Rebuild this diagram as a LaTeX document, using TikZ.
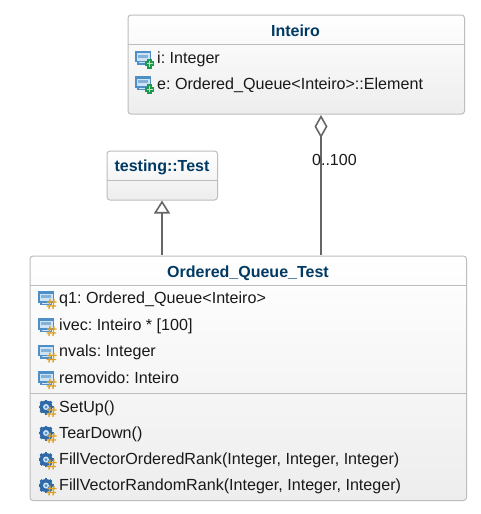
\documentclass[tikz,border=0pt]{standalone}
\usepackage{fontspec}
\setmainfont{Liberation Sans}
\usetikzlibrary{arrows.meta}
\definecolor{boxline}{HTML}{BDBDBD}
\definecolor{titleblue}{HTML}{003A63}
\definecolor{linkgrey}{HTML}{666666}
\definecolor{iconblue}{HTML}{4F8FC8}
\definecolor{iconpale}{HTML}{CFE3F5}
\definecolor{icongreen}{HTML}{1E9A4C}
\definecolor{iconorange}{HTML}{E0A020}
\definecolor{geardark}{HTML}{2F6AA8}
\tikzset{
  x=1pt,y=-1pt,
  classbox/.style={draw=boxline,line width=1pt,rounded corners=3pt,top color=white,bottom color=black!7,anchor=north west,inner sep=0pt},
  sepline/.style={draw=boxline,line width=1pt},
  titletext/.style={font=\frenchspacing\bfseries\fontsize{16}{18}\selectfont,text=titleblue,inner sep=0pt,anchor=base},
  rowtext/.style={font=\frenchspacing\fontsize{16.1}{18}\selectfont,text=black!90,inner sep=0pt,anchor=base west},
  link/.style={draw=linkgrey,line width=2pt},
  multtext/.style={font=\fontsize{16}{18}\selectfont,text=black!90,inner sep=0pt,anchor=base west},
  plusmark/.pic={
    \fill[icongreen] (10,10.5) rectangle (19,15.5);
    \fill[icongreen] (12,8) rectangle (17,18);
    \fill[white!70!icongreen] (11.5,12.5) rectangle (17.5,13.5);
    \fill[white!70!icongreen] (14,10) rectangle (15,16);
  },
  hashmark/.pic={
    \draw[iconorange,line width=1.3pt] (12,8) -- (11,18) (16,8) -- (15,18) (9,11) -- (18.5,11) (8.5,15) -- (18,15);
  },
  fieldbase/.pic={
    \fill[iconblue] (0,0) rectangle (16,11.5);
    \fill[iconpale] (1.5,2.5) rectangle (14.5,10);
    \fill[iconblue!70!white] (3,4) rectangle (13,7);
    \fill[iconblue] (2,11.5) rectangle (14,14);
    \fill[iconpale] (3.5,11.5) rectangle (12.5,12.7);
  },
  gearbase/.pic={
    \foreach \a in {0,45,...,315}{\draw[geardark,line width=2.6pt,rotate around={\a:(8,8)}] (8,0.5) -- (8,15.5);}
    \fill[geardark] (8,8) circle[radius=6.5];
    \fill[iconpale] (8,8) circle[radius=3];
    \fill[iconblue] (8,8) circle[radius=1.5];
  }
}
\begin{document}
\begin{tikzpicture}
\useasboundingbox (0,0) rectangle (481,514);
\fill[white] (0,0) rectangle (481,514);

% boxes
\node[classbox,minimum width=336.5pt,minimum height=99pt] (inteiro) at (127.5,14.5) {};
\node[classbox,minimum width=110.5pt,minimum height=49pt] (base) at (106.5,150.5) {};
\node[classbox,minimum width=436.5pt,minimum height=244.5pt] (oqt) at (29.5,255.5) {};

% compartments
\draw[sepline] (127.5,44.5) -- (464,44.5);
\draw[sepline] (106.5,180.5) -- (217,180.5);
\draw[sepline] (29.5,285.5) -- (466,285.5);
\draw[sepline] (29.5,393.5) -- (466,393.5);

% titles
\node[titletext] (tinteiro) at (295.5,36) {Inteiro};
\node[titletext] (tbase) at (162,171.5) {testing::Test};
\node[titletext] (toqt) at (248,277) {Ordered\_Queue\_Test};

% Inteiro rows
\pic at (135,50.5) {fieldbase}; \pic at (135,50.5) {plusmark};
\pic at (135,76) {fieldbase}; \pic at (135,76) {plusmark};
\node[rowtext] (r1) at (157,63) {i: Integer};
\node[rowtext] (r2) at (157,89) {e: Ordered\_Queue<Inteiro>::Element};

% Ordered_Queue_Test attributes
\foreach \y in {291,318,344.5,371}{\pic at (38,\y) {fieldbase}; \pic at (38,\y) {hashmark};}
\node[rowtext] (a1) at (59,303) {q1: Ordered\_Queue<Inteiro>};
\node[rowtext] (a2) at (59,330) {ivec: Inteiro * [100]};
\node[rowtext] (a3) at (59,356) {nvals: Integer};
\node[rowtext] (a4) at (59,383) {removido: Inteiro};

% Ordered_Queue_Test methods
\foreach \y in {399,425,451.5,477.5}{\pic at (38,\y) {gearbase}; \pic at (38,\y) {hashmark};}
\node[rowtext] (m1) at (59,412) {SetUp()};
\node[rowtext] (m2) at (59,438) {TearDown()};
\node[rowtext] (m3) at (59,464) {FillVectorOrderedRank(Integer, Integer, Integer)};
\node[rowtext] (m4) at (59,490) {FillVectorRandomRank(Integer, Integer, Integer)};

% connectors
\coordinate (genfrom) at (162,255);
\coordinate (aggfrom) at (321,255);
\draw[link,-{Triangle[open,length=13pt,width=16pt,line width=1.6pt]}] (genfrom) -- (genfrom |- base.south);
\draw[link,{Diamond[open,length=23pt,width=13pt,line width=1.6pt]}-] (aggfrom |- inteiro.south) ++(0,0.5) -- (aggfrom);
\node[multtext] (mult) at (312,165) {0..100};
\end{tikzpicture}
\end{document}
